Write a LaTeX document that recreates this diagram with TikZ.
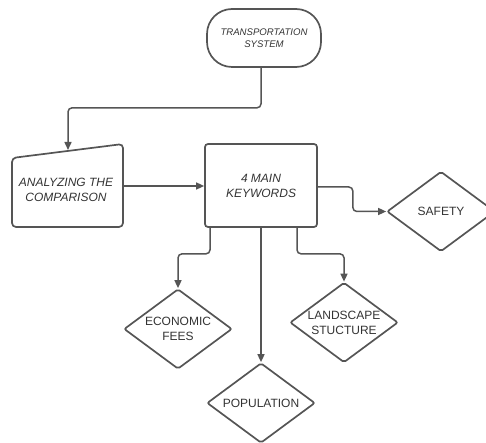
\documentclass[tikz,border=0pt]{standalone}
\usepackage{fontspec}
\setmainfont{Liberation Sans}
\usetikzlibrary{shapes.geometric,arrows.meta,calc}
\definecolor{ln}{HTML}{555555}
\definecolor{tx}{HTML}{333333}
\begin{document}
\begin{tikzpicture}[x=1pt,y=-1pt,
  every node/.style={text=tx, font=\fontsize{12}{15}\selectfont},
  box/.style={draw=ln, line width=1.7pt, rounded corners=3pt, inner sep=0pt, align=center},
  itxt/.style={font=\itshape\fontsize{12}{15}\selectfont},
  dia/.style={draw=ln, line width=1.7pt, diamond, minimum width=108pt, minimum height=80pt, inner sep=0pt, rounded corners=2pt},
  conn/.style={draw=ln, line width=1.5pt, rounded corners=4pt, -{Triangle[length=8pt,width=7pt]}}
]
\useasboundingbox (0,0) rectangle (486,443);

% top stadium
\node[box, rounded corners=25pt, minimum width=114pt, minimum height=58pt,
      font=\itshape\fontsize{9.6}{11.5}\selectfont] (ts) at (264,38) {TRANSPORTATION\\SYSTEM};

% manual input shape
\draw[draw=ln, line width=1.7pt, rounded corners=4pt]
  (12,158) -- (123,144) -- (123,227) -- (12,227) -- cycle;
\node[itxt, align=center, inner sep=0pt] (ana) at (66,190) {ANALYZING THE\\COMPARISON};
\coordinate (anatop) at (68,150);
\coordinate (anaright) at (123,186);

% main box
\node[box, itxt, minimum width=112pt, minimum height=83pt] (main) at (261,185.5) {4 MAIN\\KEYWORDS};

% diamonds
\node[dia, label={[align=center]center:SAFETY}] (saf) at (441,211.5) {};
\node[dia, label={[align=center]center:ECONOMIC\\FEES}] (eco) at (178,329) {};
\node[dia, label={[align=center]center:POPULATION}] (pop) at (261,403) {};
\node[dia, label={[align=center]center:LANDSCAPE\\STUCTURE}] (land) at (344,322.5) {};

% connectors
\draw[conn] ([xshift=-3pt]ts.south) -- ++(0,40) -| (anatop);
\draw[conn] (anaright) -- (main.west |- anaright);
\draw[conn] ([yshift=-1.5pt]main.east) -- ++(35,0) |- (saf.west);
\draw[conn] ([xshift=-51pt]main.south) -- ++(0,26) -| (eco.north);
\draw[conn] (main.south) -- (pop.north);
\draw[conn] ([xshift=36pt]main.south) -- ++(0,26) -| (land.north);
\end{tikzpicture}
\end{document}
